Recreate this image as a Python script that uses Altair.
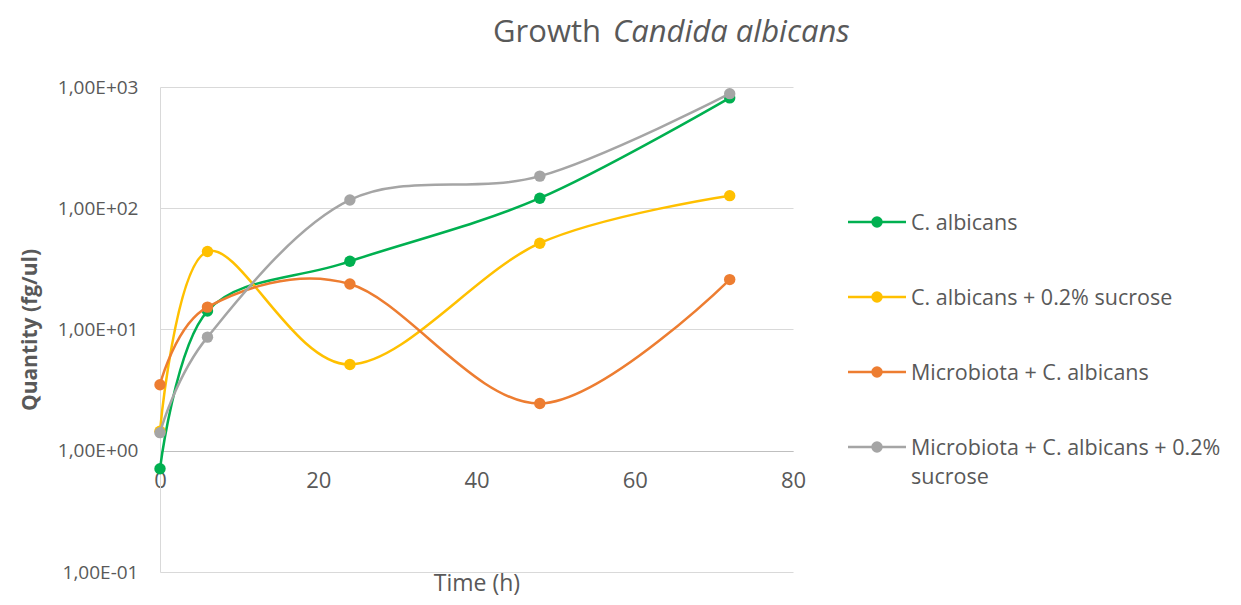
import altair as alt
import pandas as pd

# ---- data ----
time_h = [0, 6, 24, 48, 72]
series_names = [
    "C. albicans",
    "C. albicans + 0.2% sucrose",
    "Microbiota + C. albicans",
    "Microbiota + C. albicans + 0.2% sucrose",
]
c_albicans = [0.71, 14.2, 36.5, 121, 813]
c_albicans_sucrose = [1.45, 44, 5.15, 51.5, 127]
microbiota_c_albicans = [3.5, 15.3, 23.7, 2.45, 25.8]
microbiota_c_albicans_sucrose = [1.41, 8.65, 117, 184, 881]
series_values = [c_albicans, c_albicans_sucrose, microbiota_c_albicans, microbiota_c_albicans_sucrose]
series_colors = ["#00B050", "#FFC000", "#ED7D31", "#A5A5A5"]
legend_labels = [
    "C. albicans",
    "C. albicans + 0.2% sucrose",
    "Microbiota + C. albicans",
    "Microbiota + C. albicans + 0.2%\nsucrose",
]
y_ticks = [0.1, 1, 10, 100, 1000]
x_ticks = [0, 20, 40, 60, 80]
title_plain = "Growth"
title_italic = "Candida albicans"
x_title = "Time (h)"
y_title = "Quantity (fg/ul)"

TEXT = "#595959"
FONT = "Open Sans"

rows = []
for name, vals in zip(series_names, series_values):
    for t, v in zip(time_h, vals):
        rows.append({"series": name, "time": t, "value": v})
df = pd.DataFrame(rows)

color_scale = alt.Scale(domain=series_names, range=series_colors)

x_enc = alt.X(
    "time:Q",
    scale=alt.Scale(domain=[0, 80], nice=False),
    axis=alt.Axis(
        values=x_ticks, grid=False, offset=-121, ticks=False, tickSize=0,
        labelPadding=19, labelFlush=False, labelFontSize=22,
        domainColor="#BFBFBF", domainWidth=1,
        title=x_title, titleY=139, titleBaseline="alphabetic",
        titleFontWeight="normal", titleFontSize=23,
    ),
)
y_enc = alt.Y(
    "value:Q",
    scale=alt.Scale(type="log", domain=[0.1, 1000], nice=False),
    axis=alt.Axis(
        values=y_ticks, grid=True, gridColor="#D9D9D9", domainColor="#D9D9D9",
        ticks=False, tickSize=0, labelPadding=22, labelFontSize=19,
        labelExpr="'1,00E' + (datum.value < 1 ? '-' : '+') + '0' + format(abs(round(log(datum.value)/LN10)), 'd')",
        title=y_title, titleX=-130, titleY=242.5, titleAngle=270,
        titleBaseline="middle", titleAlign="center",
        titleFontWeight="bold", titleFontSize=21,
    ),
)

layers = []
for name in series_names:
    base = alt.Chart(df).transform_filter(alt.datum.series == name)
    line = base.mark_line(interpolate="cardinal", strokeWidth=2.5).encode(
        x=x_enc, y=y_enc, color=alt.Color("series:N", scale=color_scale, legend=None)
    )
    pts = base.mark_circle(size=130, opacity=1).encode(
        x=x_enc, y=y_enc, color=alt.Color("series:N", scale=color_scale, legend=None)
    )
    layers += [line, pts]
main = alt.layer(*layers)

# ---- legend ----
legend_df = pd.DataFrame({"row": [0, 1, 2, 3], "series": series_names, "label": legend_labels})
ly = alt.Y("row:Q", scale=alt.Scale(domain=[0, 3], range=[135, 360]), axis=None)
lcol = alt.Color("series:N", scale=color_scale, legend=None)
leg_rule = alt.Chart(legend_df).mark_rule(strokeWidth=2.5).encode(
    x=alt.value(688), x2=alt.value(746), y=ly, color=lcol
)
leg_pt = alt.Chart(legend_df).mark_circle(size=130, opacity=1).encode(
    x=alt.value(717), y=ly, color=lcol
)
leg_txt = alt.Chart(legend_df).mark_text(
    align="left", baseline="alphabetic", dy=8, lineBreak="\n", lineHeight=29,
    fontSize=21.5, font=FONT, color=TEXT,
).encode(x=alt.value(751), y=ly, text="label:N")
legend = alt.layer(leg_rule, leg_pt, leg_txt)

# ---- title ----
title_df = pd.DataFrame({"plain": [title_plain], "italic": [title_italic]})
t1 = alt.Chart(title_df).mark_text(
    align="right", baseline="alphabetic", fontSize=31, font=FONT, color=TEXT
).encode(x=alt.value(441), y=alt.value(-45), text="plain:N")
t2 = alt.Chart(title_df).mark_text(
    align="left", baseline="alphabetic", fontSize=31, font=FONT, color=TEXT, fontStyle="italic"
).encode(x=alt.value(453), y=alt.value(-45), text="italic:N")

chart = (
    alt.layer(main, legend, t1, t2)
    .resolve_scale(y="independent")
    .properties(
        width=633, height=485,
        padding={"left": 152, "top": 79, "right": 437, "bottom": 25},
        autosize=alt.AutoSizeParams(type="none"),
        background="white",
    )
    .configure(font=FONT)
    .configure_view(strokeWidth=0)
    .configure_axis(
        labelFont=FONT, labelFontSize=19, labelColor=TEXT,
        titleFont=FONT, titleColor=TEXT,
    )
)

chart.save("out.html", embed_options={"renderer": "svg", "actions": False})
